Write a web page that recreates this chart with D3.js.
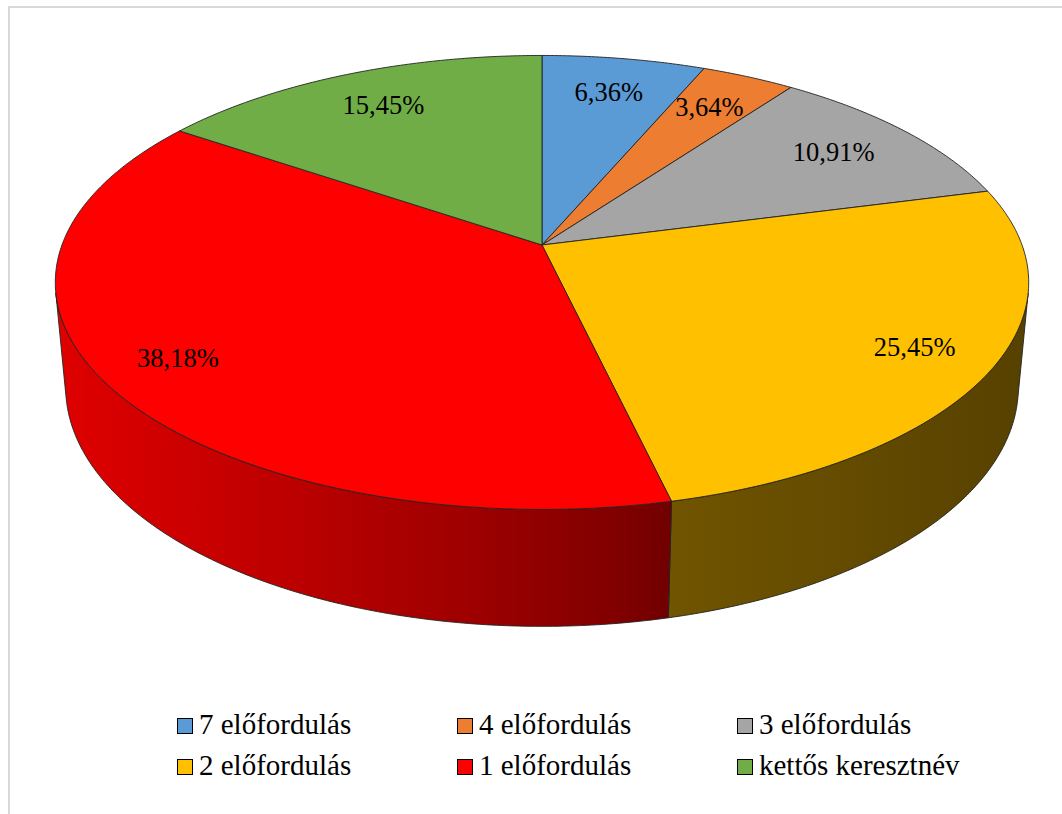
<!DOCTYPE html>
<html>
<head>
<meta charset="utf-8">
<script src="https://cdn.jsdelivr.net/npm/d3@7"></script>
<style>
  html, body { margin: 0; padding: 0; background: #fff; }
  svg { display: block; }
</style>
</head>
<body>
<svg id="chart" width="1062" height="814"></svg>
<script>
// Slice categories, shares (%) and colours, clockwise from 12 o'clock
const categories = ["7 előfordulás", "4 előfordulás", "3 előfordulás", "2 előfordulás", "1 előfordulás", "kettős keresztnév"];
const values = [6.36, 3.64, 10.91, 25.45, 38.18, 15.45];
const colors = ["#5B9BD5", "#ED7D31", "#A5A5A5", "#FFC000", "#FF0000", "#70AD47"];
const labels = values.map(v => d3.format(".2f")(v).replace(".", ",") + "%");

const FONT = "'Liberation Serif', 'DejaVu Serif', serif";
const W = 1062, H = 814;
const svg = d3.select("#chart");

// Chart area frame (top and left edges fall inside the view)
svg.append("path")
  .attr("d", "M9,830 L9,7 L1070,7")
  .attr("fill", "none")
  .attr("stroke", "#d9d9d9")
  .attr("stroke-width", 2);

// Perspective camera for a tilted 3-D disc of unit radius
const cam = {
  cx: 542, cy: 245,     // screen position of the disc centre
  f: 2583,              // focal length (px)
  d: 5.381,             // camera distance (disc radii)
  sinE: 0.46,           // elevation
  thick: 0.248          // disc thickness (disc radii)
};
cam.cosE = Math.sqrt(1 - cam.sinE * cam.sinE);

// X right, Y up, Z toward the viewer
function project(X, Y, Z) {
  const depth = cam.d - (Y * cam.sinE + Z * cam.cosE);
  return [
    cam.cx + cam.f * X / depth,
    cam.cy - cam.f * (Y * cam.cosE - Z * cam.sinE) / depth
  ];
}
// angle a measured clockwise from the back (12 o'clock)
const rim = (a, r, Y) => project(r * Math.sin(a), Y, -r * Math.cos(a));

const pie = d3.pie().sort(null).value(d => d)(values);
const line = d3.line();

function arcPoints(a0, a1, r, Y) {
  const n = Math.max(2, Math.ceil((a1 - a0) / 0.01));
  return d3.range(n + 1).map(i => rim(a0 + (a1 - a0) * i / n, r, Y));
}

// Side wall shading across the front of the disc
const shadeStops = [[55, 0.88], [270, 0.75], [470, 0.62], [620, 0.50], [672, 0.44], [1030, 0.34]];
const defs = svg.append("defs");
pie.forEach((p, i) => {
  const base = d3.rgb(colors[i]);
  const g = defs.append("linearGradient")
    .attr("id", "wall" + i)
    .attr("gradientUnits", "userSpaceOnUse")
    .attr("x1", 55).attr("x2", 1030).attr("y1", 0).attr("y2", 0);
  shadeStops.forEach(([x, k]) => {
    g.append("stop")
      .attr("offset", (x - 55) / (1030 - 55))
      .attr("stop-color", d3.rgb(base.r * k, base.g * k, base.b * k).formatHex());
  });
});

// Only the front part of the rim faces the camera
const zMin = 1 / (cam.d * cam.cosE);
const visA0 = Math.acos(-zMin), visA1 = 2 * Math.PI - visA0;

const walls = svg.append("g");
pie.forEach((p, i) => {
  const a0 = Math.max(p.startAngle, visA0), a1 = Math.min(p.endAngle, visA1);
  if (a1 <= a0) return;
  const top = arcPoints(a0, a1, 1, 0);
  const bottom = arcPoints(a0, a1, 1, -cam.thick).reverse();
  walls.append("path")
    .attr("d", line(top.concat(bottom)) + "Z")
    .attr("fill", `url(#wall${i})`)
    .attr("stroke", "#222")
    .attr("stroke-width", 0.9)
    .attr("stroke-linejoin", "round");
});

// Top faces
const tops = svg.append("g");
pie.forEach((p, i) => {
  const pts = [project(0, 0, 0)].concat(arcPoints(p.startAngle, p.endAngle, 1, 0));
  tops.append("path")
    .attr("d", line(pts) + "Z")
    .attr("fill", colors[i])
    .attr("stroke", "#222")
    .attr("stroke-width", 0.9)
    .attr("stroke-linejoin", "round");
});

// Percentage labels, placed on the top face
const lab = svg.append("g");
pie.forEach((p, i) => {
  const mid = (p.startAngle + p.endAngle) / 2;
  const r = 0.79 + 0.1 * Math.max(0, -Math.cos(mid));
  const [x, y] = rim(mid, r, 0);
  lab.append("text")
    .attr("x", x).attr("y", y - 2)
    .attr("dy", "0.35em")
    .attr("text-anchor", "middle")
    .attr("font-family", FONT)
    .attr("font-size", 26.5)
    .attr("fill", "#000")
    .text(labels[i]);
});

// Legend: three columns, two rows
const legend = svg.append("g").attr("transform", "translate(177,734)");
const item = legend.selectAll("g.item").data(categories).join("g")
  .attr("class", "item")
  .attr("transform", (d, i) => `translate(${(i % 3) * 280},${Math.floor(i / 3) * 41})`);
item.append("rect")
  .attr("x", 0.5).attr("y", -15.5)
  .attr("width", 15).attr("height", 15)
  .attr("fill", (d, i) => colors[i])
  .attr("stroke", "#000")
  .attr("stroke-width", 1);
item.append("text")
  .attr("x", 22).attr("y", 0)
  .attr("font-family", FONT)
  .attr("font-size", 29)
  .attr("fill", "#000")
  .text(d => d);
</script>
</body>
</html>
